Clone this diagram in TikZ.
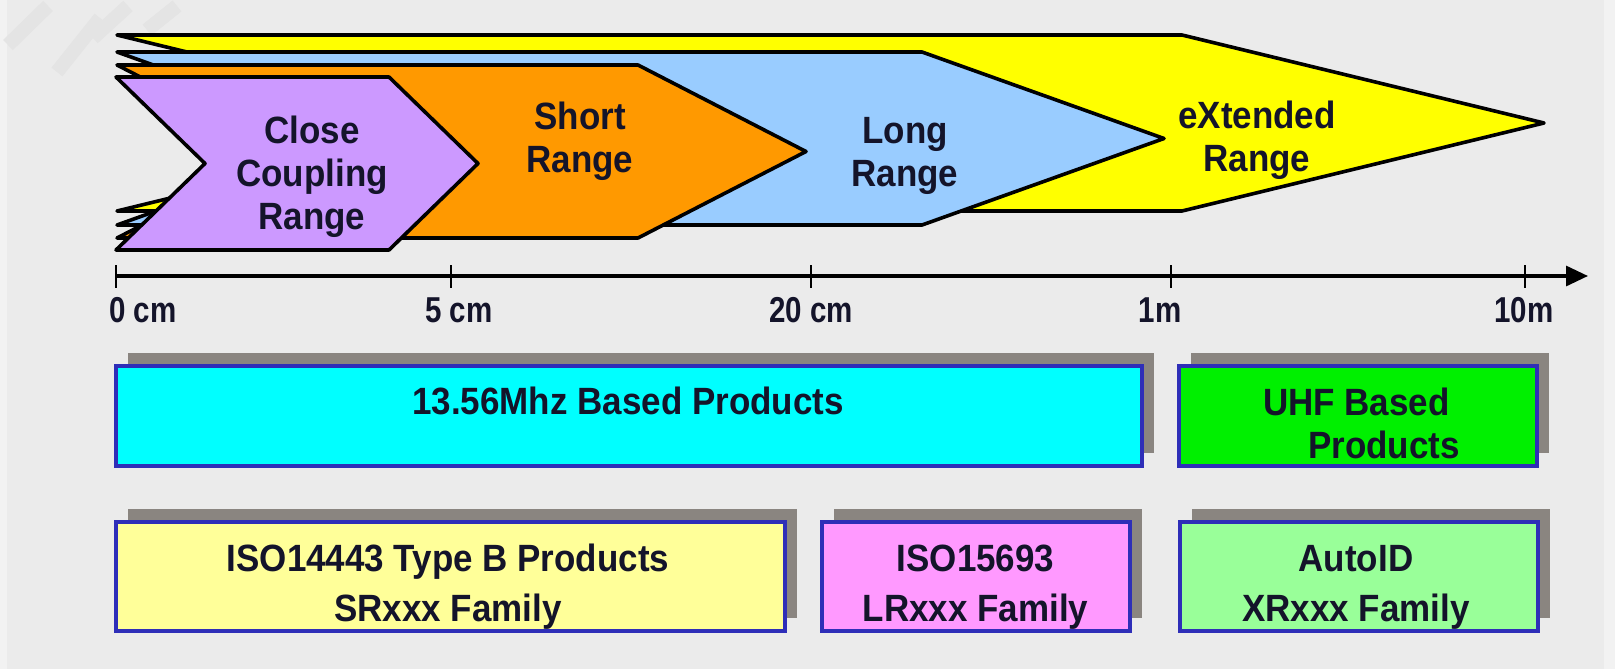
\documentclass[tikz,border=0pt]{standalone}
\usepackage{fontspec}
\newfontfamily\lblfont[FakeStretch=0.92]{Liberation Sans}
\newfontfamily\tickfont[FakeStretch=0.82]{Liberation Sans}
\usetikzlibrary{arrows.meta,shadows}

\definecolor{bg}{HTML}{EBEBEB}
\definecolor{bgedge}{HTML}{F2F2F2}
\definecolor{bgstripe}{HTML}{E4E4E4}
\definecolor{ink}{HTML}{14142A}
\definecolor{rangepurple}{HTML}{CC99FF}
\definecolor{rangeorange}{HTML}{FF9900}
\definecolor{rangeblue}{HTML}{99CCFF}
\definecolor{rangeyellow}{HTML}{FFFF00}
\definecolor{boxblue}{HTML}{2E2EB8}
\definecolor{shadowgray}{HTML}{8A8580}
\definecolor{cyanfill}{HTML}{00FFFF}
\definecolor{greenfill}{HTML}{00F000}
\definecolor{paleyellow}{HTML}{FFFF99}
\definecolor{pinkfill}{HTML}{FF99FF}
\definecolor{palegreen}{HTML}{99FF99}

\tikzset{
  chevron/.style={draw=black, line width=3.6pt, line join=round},
  rangelabel/.style={font={\lblfont\bfseries\fontsize{38}{43}\selectfont},
    text=ink, align=center, inner sep=0pt},
  ticklabel/.style={font={\tickfont\bfseries\fontsize{36}{40}\selectfont},
    text=ink, inner sep=0pt},
  axisline/.style={line width=3.2pt, black},
  tickmark/.style={line width=2.8pt, black},
  prodbox/.style={draw=boxblue, line width=4pt, inner sep=0pt,
    drop shadow={shadow xshift=12pt, shadow yshift=13pt,
      fill=shadowgray, opacity=1}},
  boxlabel/.style={font={\lblfont\bfseries\fontsize{38}{43}\selectfont},
    text=ink, align=center, inner sep=0pt},
  familylabel/.style={font={\lblfont\bfseries\fontsize{38}{50}\selectfont},
    text=ink, align=center, inner sep=0pt},
}

\begin{document}
\begin{tikzpicture}[x=1pt, y=-1pt]
  % page background
  \fill[bg] (0,0) rectangle (1615,669);
  \useasboundingbox (0,0) rectangle (1615,669);
  \fill[bgedge] (0,0) rectangle (7,669);
  \fill[bgedge] (1604,0) rectangle (1615,669);
  % faint watermark stripes
  \draw[bgstripe, line width=14pt] (8,45) -- (48,6);
  \draw[bgstripe, line width=14pt] (57,72) -- (100,18);
  \draw[bgstripe, line width=14pt] (93,38) -- (128,6);
  \draw[bgstripe, line width=14pt] (147,30) -- (177,6);

  % range chevrons, drawn from the widest to the narrowest
  \draw[chevron, fill=rangeyellow]
    (117,35) -- (1182,35) -- (1544,123) -- (1182,211) -- (117,211) -- (479,123) -- cycle;
  \draw[chevron, fill=rangeblue]
    (117,52) -- (922,52) -- (1164,138.5) -- (922,225) -- (117,225) -- (359,138.5) -- cycle;
  \draw[chevron, fill=rangeorange]
    (117,65) -- (638,65) -- (806,151.5) -- (638,238) -- (117,238) -- (285,151.5) -- cycle;
  \draw[chevron, fill=rangepurple]
    (116,77) -- (389,77) -- (478,163.5) -- (389,250) -- (116,250) -- (205,163.5) -- cycle;

  \node[rangelabel] (closelbl) at (312,176.5) {Close\\Coupling\\Range};
  \node[rangelabel] (shortlbl) at (580,141) {Short\\Range};
  \node[rangelabel] (longlbl) at (905,156) {Long\\Range};
  \node[rangelabel] (extlbl) at (1257,140) {eXtended\\Range};

  % distance axis
  \coordinate (t0) at (116,276);
  \coordinate (t5) at (451,276);
  \coordinate (t20) at (811,276);
  \coordinate (t1m) at (1171,276);
  \coordinate (t10m) at (1525,276);
  \coordinate (axend) at (1588,276);
  \draw[axisline, -{Triangle[length=22pt, width=20pt]}] (t0) -- (axend);
  \foreach \t in {t0,t5,t20,t1m,t10m}
    \draw[tickmark] ([yshift=11pt]\t) -- ([yshift=-12pt]\t);

  \node[ticklabel] (l0) at (143,310) {0 cm};
  \node[ticklabel] (l5) at (459,310) {5 cm};
  \node[ticklabel] (l20) at (811,310) {20 cm};
  \node[ticklabel] (l1m) at (1160,310) {1m};
  \node[ticklabel] (l10m) at (1524,310) {10m};

  % product families by frequency
  \node[prodbox, fill=cyanfill, minimum width=1026pt, minimum height=100pt]
    (hfbox) at (628.5,415.5) {};
  \node[prodbox, fill=greenfill, minimum width=358pt, minimum height=100pt]
    (uhfbox) at (1357.5,415.5) {};
  \node[boxlabel] (hflbl) at (628,401) {13.56Mhz Based Products};
  \node[boxlabel, align=left, anchor=west] (uhflbl) at (1263,423.5)
    {UHF Based\\\hspace*{45pt}Products};

  % product families by standard
  \node[prodbox, fill=paleyellow, minimum width=669pt, minimum height=109pt]
    (srbox) at (450,576) {};
  \node[prodbox, fill=pinkfill, minimum width=308pt, minimum height=109pt]
    (lrbox) at (975.5,576) {};
  \node[prodbox, fill=palegreen, minimum width=358pt, minimum height=109pt]
    (xrbox) at (1358.5,576) {};
  \node[familylabel] (srlbl) at (448,587) {ISO14443 Type B Products\\SRxxx Family};
  \node[familylabel] (lrlbl) at (975.5,587) {ISO15693\\LRxxx Family};
  \node[familylabel] (xrlbl) at (1356,587) {AutoID\\XRxxx Family};
\end{tikzpicture}
\end{document}
